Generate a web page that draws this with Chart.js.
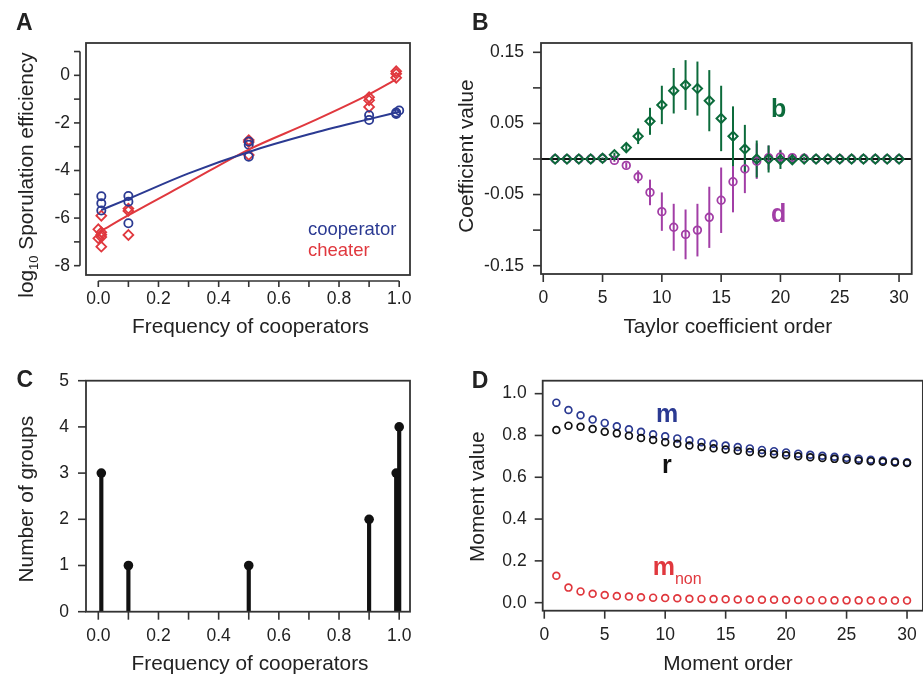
<!DOCTYPE html>
<html lang="en">
<head>
<meta charset="UTF-8">
<title>Cooperators and cheaters</title>
<script src="https://cdn.jsdelivr.net/npm/chart.js"></script>
<style>
  html, body { margin: 0; padding: 0; background: #fff; overflow: hidden; }
  #wrap { position: relative; width: 923px; height: 674px; }
  canvas { position: absolute; }
</style>
</head>
<body>
<div id="wrap">
  <canvas id="chartA" width="440" height="342" style="left:0;top:0"></canvas>
  <canvas id="chartB" width="483" height="342" style="left:440px;top:0"></canvas>
  <canvas id="chartC" width="440" height="332" style="left:0;top:342px"></canvas>
  <canvas id="chartD" width="491" height="332" style="left:440px;top:342px"></canvas>
</div>
<script>
// ---- panel A: sporulation efficiency ----
const coopX  = [0.01, 0.01, 0.01, 0.1, 0.1, 0.1, 0.5, 0.5, 0.5, 0.9, 0.9, 0.99, 0.99, 1.0];
const coopY  = [-5.08, -5.38, -5.68, -5.07, -5.31, -6.22, -2.78, -2.92, -3.42, -1.68, -1.88, -1.56, -1.62, -1.48];
const cheatX = [0.0, 0.0, 0.01, 0.01, 0.01, 0.01, 0.01, 0.1, 0.1, 0.1, 0.5, 0.5, 0.5, 0.9, 0.9, 0.9, 0.99, 0.99, 0.99];
const cheatY = [-6.47, -6.85, -5.9, -6.6, -6.7, -6.8, -7.2, -5.6, -5.7, -6.71, -2.72, -2.8, -3.35, -0.92, -1.05, -1.33, 0.17, 0.07, -0.1];
const coopFitX  = [0.01, 0.1, 0.3, 0.5, 0.7, 0.9, 1.0];
const coopFitY  = [-5.66, -5.19, -4.12, -3.22, -2.48, -1.84, -1.53];
const cheatFitX = [0.01, 0.1, 0.3, 0.5, 0.7, 0.9, 0.99];
const cheatFitY = [-6.54, -5.88, -4.5, -3.12, -2.0, -0.8, -0.17];

// ---- panel B: Taylor coefficients ----
const orders = [1,2,3,4,5,6,7,8,9,10,11,12,13,14,15,16,17,18,19,20,21,22,23,24,25,26,27,28,29,30];
const bVal = [0,0,0,0,0.001,0.006,0.016,0.032,0.053,0.076,0.096,0.104,0.099,0.082,0.057,0.032,0.014,0,0,-0.001,-0.001,0,0,0,0,0,0,0,0,0];
const bErr = [0,0,0,0,0.001,0.003,0.005,0.011,0.019,0.027,0.032,0.035,0.038,0.043,0.046,0.042,0.034,0.026,0.019,0.013,0.006,0.002,0,0,0,0,0,0,0,0];
const dVal = [0,0,0,0,0.001,-0.002,-0.009,-0.025,-0.047,-0.074,-0.096,-0.106,-0.1,-0.082,-0.058,-0.032,-0.014,-0.003,0.002,0.003,0.002,0.001,0,0,0,0,0,0,0,0];
const dErr = [0,0,0,0,0.001,0.002,0.004,0.009,0.018,0.027,0.033,0.035,0.037,0.043,0.046,0.043,0.034,0.025,0.017,0.01,0.005,0.002,0,0,0,0,0,0,0,0];

// ---- panel C: group composition ----
const groupFreq  = [0.01, 0.1, 0.5, 0.9, 0.99, 1.0];
const groupCount = [3, 1, 1, 2, 3, 4];

// ---- panel D: moments ----
const mVal = [0.957,0.922,0.897,0.876,0.86,0.844,0.83,0.818,0.806,0.796,0.786,0.777,0.768,0.76,0.752,0.745,0.738,0.731,0.725,0.719,0.713,0.708,0.703,0.698,0.693,0.689,0.684,0.68,0.676,0.672];
const rVal = [0.826,0.847,0.842,0.831,0.818,0.81,0.799,0.788,0.778,0.768,0.76,0.752,0.745,0.739,0.733,0.727,0.721,0.715,0.71,0.705,0.7,0.696,0.692,0.688,0.684,0.68,0.677,0.674,0.671,0.668];
const mNonVal = [0.129,0.072,0.054,0.043,0.037,0.032,0.029,0.026,0.024,0.022,0.021,0.019,0.018,0.017,0.016,0.015,0.015,0.014,0.014,0.013,0.013,0.012,0.012,0.011,0.011,0.011,0.01,0.01,0.01,0.01];

const BLUE = '#2b3a92', RED = '#e0383e', GREEN = '#0c6b3b', PURPLE = '#a23ea6', INK = '#222';
const FONT = '"Liberation Sans", Arial, Helvetica, sans-serif';
Chart.defaults.font.family = FONT;
Chart.defaults.color = INK;

const xy = (xs, ys) => xs.map((x, i) => ({ x: x, y: ys[i] }));

function axis(min, max, step, fmt, size, pad) {
  return {
    type: 'linear', min: min, max: max, offset: false,
    grid: { display: false, drawTicks: false }, border: { display: false },
    ticks: { stepSize: step, includeBounds: false, autoSkip: false, maxRotation: 0,
             padding: pad, callback: fmt, color: INK, font: { size: 17.5 } },
    afterFit(s) { if (s.isHorizontal()) s.height = size; else s.width = size; }
  };
}

function drawLabel(ctx, L) {
  const parts = L.parts || [{ t: L.t, size: L.size, bold: L.bold }];
  const fontOf = p => (p.bold ? 'bold ' : '') + p.size + 'px ' + FONT;
  ctx.save();
  ctx.translate(L.x, L.y);
  if (L.rot) ctx.rotate(-Math.PI / 2);
  ctx.fillStyle = L.color || INK;
  ctx.textBaseline = 'alphabetic';
  ctx.textAlign = 'left';
  const widths = parts.map(p => { ctx.font = fontOf(p); return ctx.measureText(p.t).width; });
  const total = widths.reduce((a, b) => a + b, 0);
  let x = L.align === 'center' ? -total / 2 : 0;
  parts.forEach((p, i) => { ctx.font = fontOf(p); ctx.fillText(p.t, x, p.dy || 0); x += widths[i]; });
  ctx.restore();
}

// frame, R-style ticks, zero line, error bars and text labels
function rFrame(cfg) {
  const seg = (ctx, x1, y1, x2, y2) => { ctx.beginPath(); ctx.moveTo(x1, y1); ctx.lineTo(x2, y2); ctx.stroke(); };
  return {
    id: 'rframe',
    beforeDatasetsDraw(chart) {
      const { ctx, chartArea: a, scales: { x: xs, y: ys } } = chart;
      ctx.save();
      if (cfg.zeroLine) {
        ctx.strokeStyle = '#111'; ctx.lineWidth = 2;
        const y0 = ys.getPixelForValue(0);
        seg(ctx, a.left, y0, a.right, y0);
      }
      (cfg.errorBars || []).forEach(eb => {
        ctx.strokeStyle = eb.color; ctx.lineWidth = 2;
        eb.x.forEach((xv, i) => {
          if (!eb.err[i]) return;
          const px = xs.getPixelForValue(xv);
          seg(ctx, px, ys.getPixelForValue(eb.y[i] - eb.err[i]), px, ys.getPixelForValue(eb.y[i] + eb.err[i]));
        });
      });
      ctx.restore();
    },
    afterDraw(chart) {
      const { ctx, chartArea: a, scales: { x: xs, y: ys } } = chart;
      const off = cfg.offset || 0, len = cfg.tickLen || 7;
      ctx.save();
      ctx.strokeStyle = '#333'; ctx.lineWidth = 1.8;
      ctx.strokeRect(a.left, a.top, a.right - a.left, a.bottom - a.top);
      ctx.lineWidth = 1.6;
      const yx = a.left - off;
      const yp = ys.ticks.map(t => ys.getPixelForValue(t.value));
      yp.forEach(p => seg(ctx, yx, p, yx - len, p));
      const xyp = a.bottom + off;
      const xp = xs.ticks.map(t => xs.getPixelForValue(t.value));
      xp.forEach(p => seg(ctx, p, xyp, p, xyp + len));
      if (off) {
        seg(ctx, yx, yp[0], yx, yp[yp.length - 1]);
        seg(ctx, xp[0], xyp, xp[xp.length - 1], xyp);
      }
      ctx.restore();
      (cfg.texts || []).forEach(L => drawLabel(ctx, L));
    }
  };
}

const baseOptions = (scales, padding) => ({
  responsive: false, maintainAspectRatio: false, animation: false, events: [],
  layout: { padding: padding },
  plugins: { legend: { display: false }, tooltip: { enabled: false } },
  scales: scales
});

const TITLE = 20.8, LETTER = 23;
const fmtA_x = v => (Math.round(v * 10) % 2 === 0 ? v.toFixed(1) : '');
const fmtB_y = v => {
  const k = Math.round(v * 100);
  if (k % 10 === 0) return '';
  return (k < 0 ? '-' : '') + (Math.abs(k) / 100).toFixed(2);
};

// ---- A ----
new Chart(document.getElementById('chartA'), {
  type: 'scatter',
  data: { datasets: [
    { type: 'line', data: xy(coopFitX, coopFitY), borderColor: BLUE, borderWidth: 2, pointRadius: 0, cubicInterpolationMode: 'monotone', fill: false },
    { type: 'line', data: xy(cheatFitX, cheatFitY), borderColor: RED, borderWidth: 2, pointRadius: 0, cubicInterpolationMode: 'monotone', fill: false },
    { data: xy(coopX, coopY), pointStyle: 'circle', pointRadius: 4.1, borderWidth: 1.8, borderColor: BLUE, backgroundColor: 'transparent' },
    { data: xy(cheatX, cheatY), pointStyle: 'rectRot', pointRadius: 4.9, borderWidth: 1.8, borderColor: RED, backgroundColor: 'transparent' }
  ] },
  options: baseOptions({
    x: axis(-0.0409, 1.0359, 0.1, fmtA_x, 50, 14),
    y: axis(-8.392, 1.359, 1, v => (v % 2 === 0 ? String(v) : ''), 60, 16)
  }, { left: 26, right: 30, top: 43, bottom: 17 }),
  plugins: [rFrame({
    offset: 6, tickLen: 6,
    texts: [
      { t: 'A', size: LETTER, bold: true, x: 16, y: 30 },
      { t: 'Frequency of cooperators', size: TITLE, x: 250.5, y: 333, align: 'center' },
      { parts: [{ t: 'log', size: TITLE }, { t: '10', size: 13, dy: 5 }, { t: ' Sporulation efficiency', size: TITLE }],
        x: 33, y: 175, rot: true, align: 'center' },
      { t: 'cooperator', size: 18.5, color: BLUE, x: 308, y: 235 },
      { t: 'cheater', size: 18.5, color: RED, x: 308, y: 256 }
    ]
  })]
});

// ---- B ----
new Chart(document.getElementById('chartB'), {
  type: 'scatter',
  data: { datasets: [
    { data: xy(orders, bVal), pointStyle: 'rectRot', pointRadius: 4.6, borderWidth: 2, borderColor: GREEN, backgroundColor: 'transparent' },
    { data: xy(orders, dVal), pointStyle: 'circle', pointRadius: 3.8, borderWidth: 1.8, borderColor: PURPLE, backgroundColor: 'transparent' }
  ] },
  options: baseOptions({
    x: axis(-0.19, 31.07, 5, v => String(v), 50, 14),
    y: axis(-0.1617, 0.1631, 0.05, fmtB_y, 60, 17)
  }, { left: 41, right: 1, top: 43, bottom: 18 }),
  plugins: [rFrame({
    tickLen: 8, zeroLine: true,
    errorBars: [
      { x: orders, y: dVal, err: dErr, color: PURPLE },
      { x: orders, y: bVal, err: bErr, color: GREEN }
    ],
    texts: [
      { t: 'B', size: LETTER, bold: true, x: 32, y: 30 },
      { t: 'Taylor coefficient order', size: TITLE, x: 287.8, y: 333, align: 'center' },
      { t: 'Coefficient value', size: TITLE, x: 32.7, y: 156, rot: true, align: 'center' },
      { t: 'b', size: 25, bold: true, color: GREEN, x: 331, y: 116.7 },
      { t: 'd', size: 25, bold: true, color: PURPLE, x: 331, y: 221.7 }
    ]
  })]
});

// ---- C ----
new Chart(document.getElementById('chartC'), {
  type: 'scatter',
  data: { datasets: [
    { data: xy(groupFreq, groupCount), pointStyle: 'circle', pointRadius: 4.8, borderWidth: 0, backgroundColor: '#111' },
    { type: 'bar', data: xy(groupFreq, groupCount), backgroundColor: '#111', barThickness: 3.5, grouped: false }
  ] },
  options: baseOptions({
    x: axis(-0.0409, 1.0359, 0.1, fmtA_x, 50, 14),
    y: axis(0, 5, 1, v => String(v), 60, 17)
  }, { left: 26, right: 30, top: 38.7, bottom: 12.3 }),
  plugins: [rFrame({
    tickLen: 8,
    texts: [
      { t: 'C', size: LETTER, bold: true, x: 16.5, y: 44.7 },
      { t: 'Frequency of cooperators', size: TITLE, x: 250, y: 328, align: 'center' },
      { t: 'Number of groups', size: TITLE, x: 33.3, y: 157.2, rot: true, align: 'center' }
    ]
  })]
});

// ---- D ----
new Chart(document.getElementById('chartD'), {
  type: 'scatter',
  data: { datasets: [
    { data: xy(orders, rVal), pointStyle: 'circle', pointRadius: 3.4, borderWidth: 1.7, borderColor: '#111', backgroundColor: 'transparent' },
    { data: xy(orders, mVal), pointStyle: 'circle', pointRadius: 3.4, borderWidth: 1.7, borderColor: BLUE, backgroundColor: 'transparent' },
    { data: xy(orders, mNonVal), pointStyle: 'circle', pointRadius: 3.4, borderWidth: 1.7, borderColor: RED, backgroundColor: 'transparent' }
  ] },
  options: baseOptions({
    x: axis(-0.13, 31.31, 5, v => String(v), 50, 14),
    y: axis(-0.0384, 1.062, 0.2, v => v.toFixed(1), 60, 16)
  }, { left: 42.7, right: 5, top: 38.7, bottom: 13.3 }),
  plugins: [rFrame({
    tickLen: 8,
    texts: [
      { t: 'D', size: LETTER, bold: true, x: 31.7, y: 45.7 },
      { t: 'Moment order', size: TITLE, x: 288, y: 328, align: 'center' },
      { t: 'Moment value', size: TITLE, x: 44.3, y: 154.7, rot: true, align: 'center' },
      { t: 'm', size: 25, bold: true, color: BLUE, x: 216, y: 79.7 },
      { t: 'r', size: 25, bold: true, color: '#111', x: 222, y: 131.3 },
      { parts: [{ t: 'm', size: 25, bold: true }, { t: 'non', size: 16, dy: 9 }], color: RED, x: 212.7, y: 233 }
    ]
  })]
});
</script>
</body>
</html>
